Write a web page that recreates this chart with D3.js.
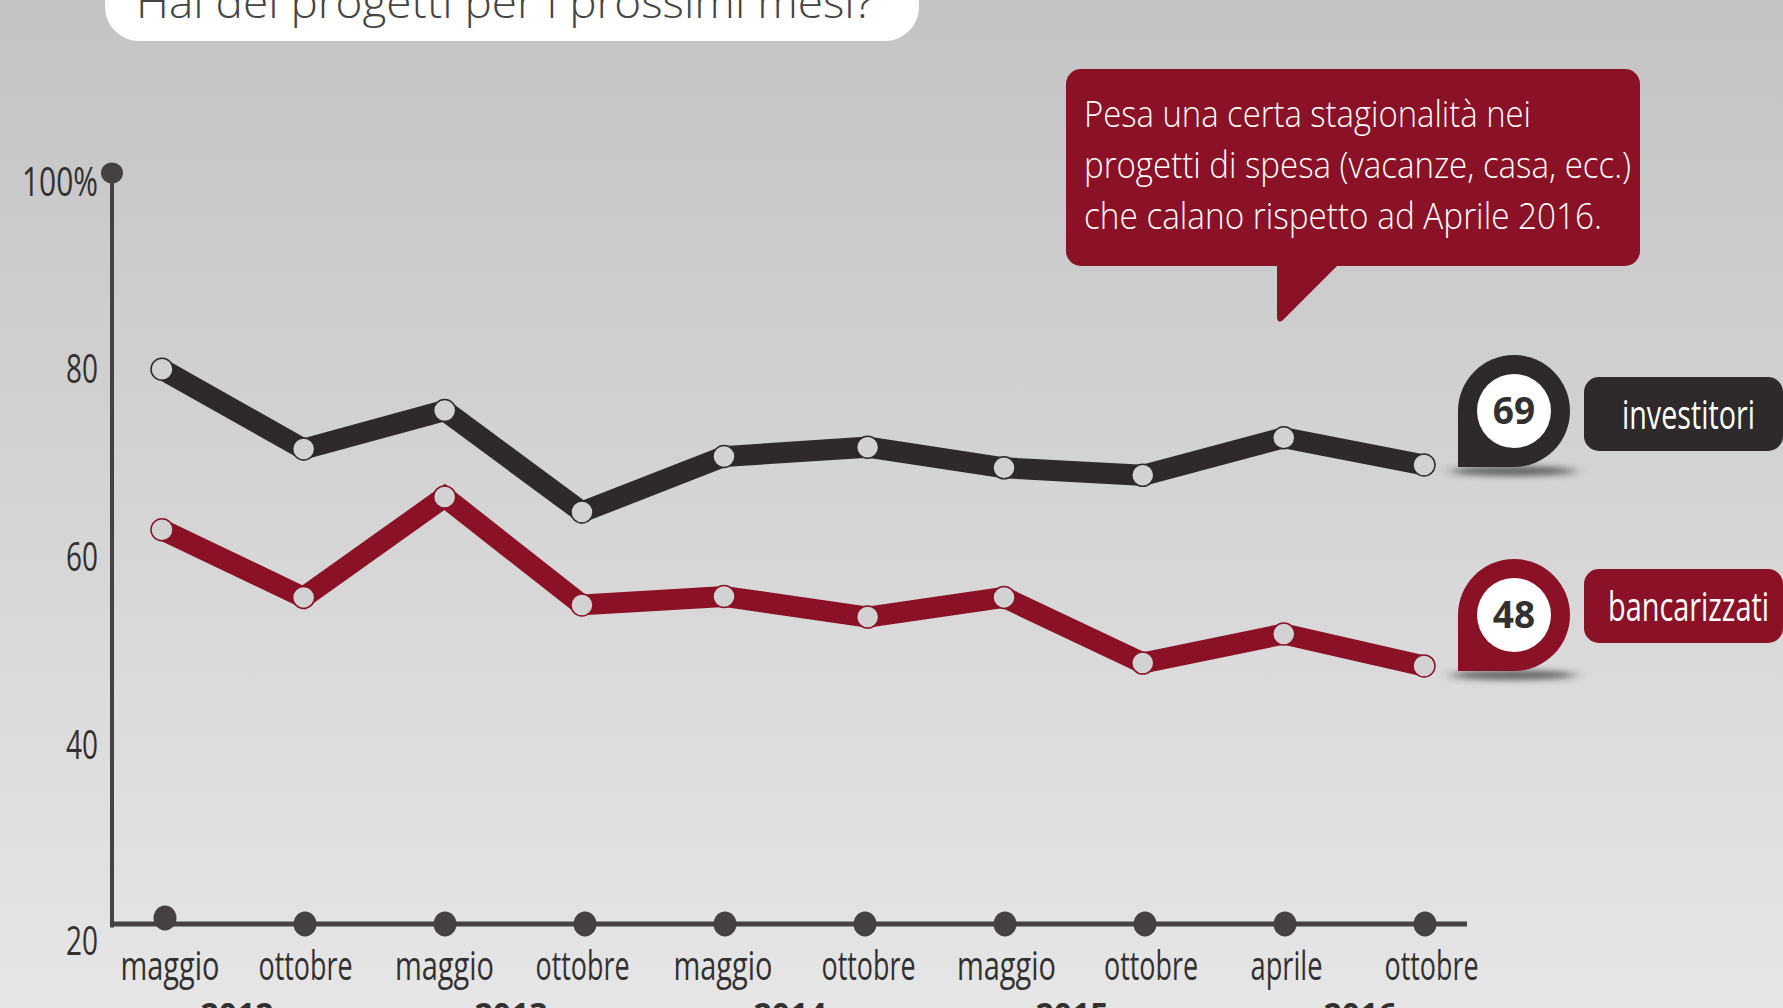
<!DOCTYPE html>
<html><head><meta charset="utf-8">
<script src="https://cdn.jsdelivr.net/npm/d3@7"></script>
<style>html,body{margin:0;padding:0;overflow:hidden;background:#d5d5d5}svg{display:block}text{font-family:"Open Sans",sans-serif}</style>
</head><body><svg id="c" width="1783" height="1008"></svg>
<script>
const categories=["maggio","ottobre","maggio","ottobre","maggio","ottobre","maggio","ottobre","aprile","ottobre"];
const investitori=[79.2,70.7,74.8,64,69.9,70.9,68.7,67.9,71.9,69];
const bancarizzati=[62.1,54.9,65.6,54.1,55,52.8,54.9,47.9,51,47.6];
const yTicks=[20,40,60,80,100];
const years=["2012","2013","2014","2015","2016"];
const noteLines=["Pesa una certa stagionalità nei","progetti di spesa (vacanze, casa, ecc.)","che calano rispetto ad Aprile 2016."];
const titleText="Hai dei progetti per i prossimi mesi?";

const DARK="#2e2a2b",RED="#8a1126",AXIS="#454140",INK="#333031";
const svg=d3.select("#c");
const defs=svg.append("defs");
const g=defs.append("linearGradient").attr("id","bg").attr("x1",0).attr("x2",0).attr("y1",0).attr("y2",1);
g.append("stop").attr("offset",0).attr("stop-color","#c3c3c3");
g.append("stop").attr("offset",1).attr("stop-color","#e6e6e6");
defs.append("filter").attr("id","blur").attr("x","-30%").attr("y","-300%").attr("width","160%").attr("height","700%")
  .append("feGaussianBlur").attr("stdDeviation","8 3");
svg.append("rect").attr("width",1783).attr("height",1008).attr("fill","url(#bg)");

// title bubble
svg.append("rect").attr("x",105).attr("y",-60).attr("width",814).attr("height",101).attr("rx",34).attr("fill","#fff");
svg.append("text").attr("x",136).attr("y",18).attr("font-size",45).attr("font-weight",300).attr("fill","#444")
  .attr("textLength",738).attr("lengthAdjust","spacingAndGlyphs").text(titleText);

// scales
const idx=categories.map((_,i)=>i);
const x=d3.scalePoint().domain(idx).range([162,1424]);
const xTick=d3.scalePoint().domain(idx).range([165,1425]);
const y=d3.scaleLinear().domain([20,100]).range([925,174]);
const pointNudge=[0,1.4,2.2,-.7,1.1,4.5,.7,-.8,0,0];
const px=i=>x(i)+pointNudge[i];

// axes
const labelWidth={maggio:99,ottobre:94,aprile:72};
const labelNudge=[4.5,0,-1,-3,-2.5,3,1,5.5,1,6];
const xAxis=svg.append("g").attr("transform","translate(0,925)")
  .call(d3.axisBottom(xTick).tickSize(0).tickFormat(i=>categories[i]));
xAxis.select(".domain").remove();
xAxis.selectAll("text").attr("y",0).attr("dy",0)
  .attr("font-size",40).attr("fill",INK).attr("text-anchor","middle")
  .attr("textLength",function(i){return labelWidth[categories[i]]}).attr("lengthAdjust","spacingAndGlyphs")
  .attr("transform",i=>`translate(${labelNudge[i]},55)`)
  .style("font-family",'"Open Sans",sans-serif');
const yAxis=svg.append("g").attr("transform","translate(98,0)")
  .call(d3.axisLeft(y).tickValues(yTicks).tickSize(0).tickPadding(0).tickFormat(d=>d===100?"100%":d));
yAxis.select(".domain").remove();
yAxis.selectAll("text").attr("x",0).attr("dy",0)
  .attr("font-size",40).attr("fill",INK).attr("text-anchor","end")
  .attr("textLength",d=>d===100?76:32).attr("lengthAdjust","spacingAndGlyphs")
  .attr("transform",function(d){return `translate(0,${d===20?29:d===100?21:21})`})
  .style("font-family",'"Open Sans",sans-serif');

svg.append("line").attr("x1",112).attr("x2",112).attr("y1",y(100)).attr("y2",y(20)+2.5).attr("stroke",AXIS).attr("stroke-width",4);
svg.append("line").attr("x1",110).attr("x2",1467).attr("y1",y(20)-1).attr("y2",y(20)-1).attr("stroke",AXIS).attr("stroke-width",5);
svg.append("ellipse").attr("cx",112).attr("cy",y(100)-1).attr("rx",11).attr("ry",10.5).attr("fill",AXIS);
svg.selectAll(".tickdot").data(idx).join("ellipse").attr("class","tickdot")
  .attr("cx",i=>xTick(i)).attr("cy",i=>y(20)-(i===0?7:1)).attr("rx",11.5).attr("ry",12.5).attr("fill",AXIS);

// series
const line=d3.line().x((d,i)=>px(i)).y(d=>y(d));
[[investitori,DARK],[bancarizzati,RED]].forEach(([vals,col])=>{
  svg.append("path").datum(vals).attr("d",line).attr("fill","none").attr("stroke",col).attr("stroke-width",21).attr("stroke-linejoin","miter");
  svg.selectAll(null).data(vals).join("circle").attr("cx",(d,i)=>px(i)).attr("cy",d=>y(d)).attr("r",11)
    .attr("fill","#d2d2d2").attr("stroke",col).attr("stroke-width",1.5);
});

// callout
const note=svg.append("g");
note.append("path").attr("fill",RED).attr("d","M1277,260 L1277,318 Q1278,324 1283,320 L1343,260 Z");
note.append("rect").attr("x",1066).attr("y",69).attr("width",574).attr("height",197).attr("rx",15).attr("fill",RED);
const noteW=[447,547,518], noteY=[127,178,229];
note.selectAll("text").data(noteLines).join("text").attr("x",1084).attr("y",(d,i)=>noteY[i])
  .attr("font-size",36).attr("font-weight",300).attr("fill","#fff")
  .attr("textLength",(d,i)=>noteW[i]).attr("lengthAdjust","spacingAndGlyphs").text(d=>d);

// end badges
const badges=[
 {shown:"69",name:"investitori",col:DARK,cy:411,boxY:377,tx:1622,tw:133,ty:429},
 {shown:"48",name:"bancarizzati",col:RED,cy:615,boxY:569,tx:1608,tw:161,ty:621}
];
badges.forEach(b=>{
  const cx=1514,R=56;
  svg.append("ellipse").attr("cx",cx-1).attr("cy",b.cy+60).attr("rx",62).attr("ry",5).attr("fill","#333").attr("opacity",.7).attr("filter","url(#blur)");
  svg.append("path").attr("fill",b.col)
    .attr("d",`M${cx-R},${b.cy} A${R},${R} 0 1 1 ${cx},${b.cy+R} L${cx-R},${b.cy+R} Z`);
  svg.append("circle").attr("cx",cx).attr("cy",b.cy).attr("r",37).attr("fill","#fff");
  svg.append("text").attr("x",cx).attr("y",b.cy+13).attr("text-anchor","middle").attr("font-size",37).attr("font-weight",700).attr("fill",INK).text(b.shown);
  svg.append("rect").attr("x",1584).attr("y",b.boxY).attr("width",199).attr("height",74).attr("rx",15).attr("fill",b.col);
  svg.append("text").attr("x",b.tx).attr("y",b.ty).attr("font-size",40).attr("fill","#fff")
    .attr("textLength",b.tw).attr("lengthAdjust","spacingAndGlyphs").text(b.name);
});

// years (cropped by the frame)
const yearX=[237,511,790,1072,1360];
svg.selectAll(".yr").data(years).join("text").attr("class","yr").attr("x",(d,i)=>yearX[i]).attr("y",1026)
  .attr("text-anchor","middle").attr("font-size",32).attr("font-weight",700).attr("fill",INK).text(d=>d);
</script></body></html>
